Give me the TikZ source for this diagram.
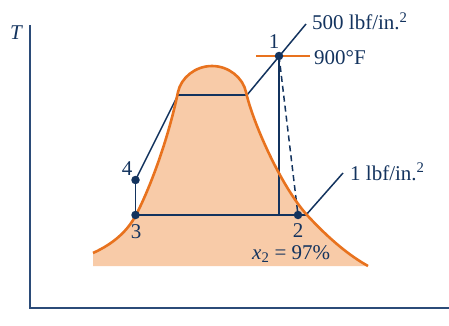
\documentclass[tikz,border=0pt]{standalone}
\usepackage{fontspec}
\setmainfont{Liberation Serif}
\begin{document}
\begin{tikzpicture}[x=1pt,y=-1pt,
  navy/.style={draw=lineblue, line width=1.5pt},
  dot/.style={circle, fill=lineblue, inner sep=0pt, minimum size=8.5pt},
  lbl/.style={text=lineblue, font=\fontsize{21}{25}\selectfont, inner sep=0pt}]
\definecolor{lineblue}{HTML}{13335E}
\definecolor{axisblue}{HTML}{2B4B78}
\definecolor{domeorange}{HTML}{E8721E}
\definecolor{domefill}{HTML}{F8CBA8}
\def\domepath{(93,253) .. controls (115,243) and (128,230) .. (136,215)
  .. controls (150,188) and (168,140) .. (178,92)
  .. controls (181,78) and (195,66) .. (212,66)
  .. controls (229,66) and (243,78) .. (246,92)
  .. controls (252,120) and (280,185) .. (307,215)
  .. controls (330,240) and (350,256) .. (368,266)}
\useasboundingbox (0,0) rectangle (449,326);
% fill
\fill[domefill] \domepath -- (368,266) -- (93,266) -- cycle;
% axes
\draw[axisblue, line width=1.8pt] (30,25) -- (30,308) -- (449,308);
\node[lbl, font=\fontsize{21}{25}\selectfont\itshape] (T) at (16,33) {T};
% cycle lines
\coordinate (p1) at (279,56);
\coordinate (p2) at (298,215);
\coordinate (p3) at (135.5,215);
\coordinate (p4) at (135.5,180);
\coordinate (gL) at (178,95);
\coordinate (gR) at (247,95);
\coordinate (c2) at (306,215);
\coordinate (e500) at (306,24);
\coordinate (e1) at (343,173);
\draw[navy] (gL) -- (gR);
\draw[navy] (p4) -- (gL);
\draw[navy] (gR) -- (e500);
\draw[navy] (p3) -- (p4);
\draw[navy] (p3) -- (c2);
\draw[navy] (c2) -- (e1);
\draw[navy] (p1) -- (279,215);
\draw[navy, dash pattern=on 6pt off 4pt] (p1) -- (p2);
% dome curve
\draw[domeorange, line width=2.6pt] \domepath;
% isotherm
\draw[domeorange, line width=2.6pt] (256,56) -- (310,56);
% dots
\node[dot] (d1) at (p1) {};
\node[dot] (d2) at (p2) {};
\node[dot] (d3) at (p3) {};
\node[dot] (d4) at (p4) {};
% labels
\node[lbl] (l1) at (274,42) {1};
\node[lbl] (l4) at (127,169) {4};
\node[lbl] (l3) at (136,232) {3};
\node[lbl] (l2) at (298,231) {2};
\node[lbl, anchor=base west] (t500) at (312,30) {500 lbf/in.\textsuperscript{2}};
\node[lbl, anchor=base west] (t900) at (314,65) {900°F};
\node[lbl, anchor=base west] (tone) at (350,180) {1 lbf/in.\textsuperscript{2}};
\node[lbl, anchor=base west] (tx) at (252,259) {\textit{x}\textsubscript{2} = 97\%};
\end{tikzpicture}
\end{document}
